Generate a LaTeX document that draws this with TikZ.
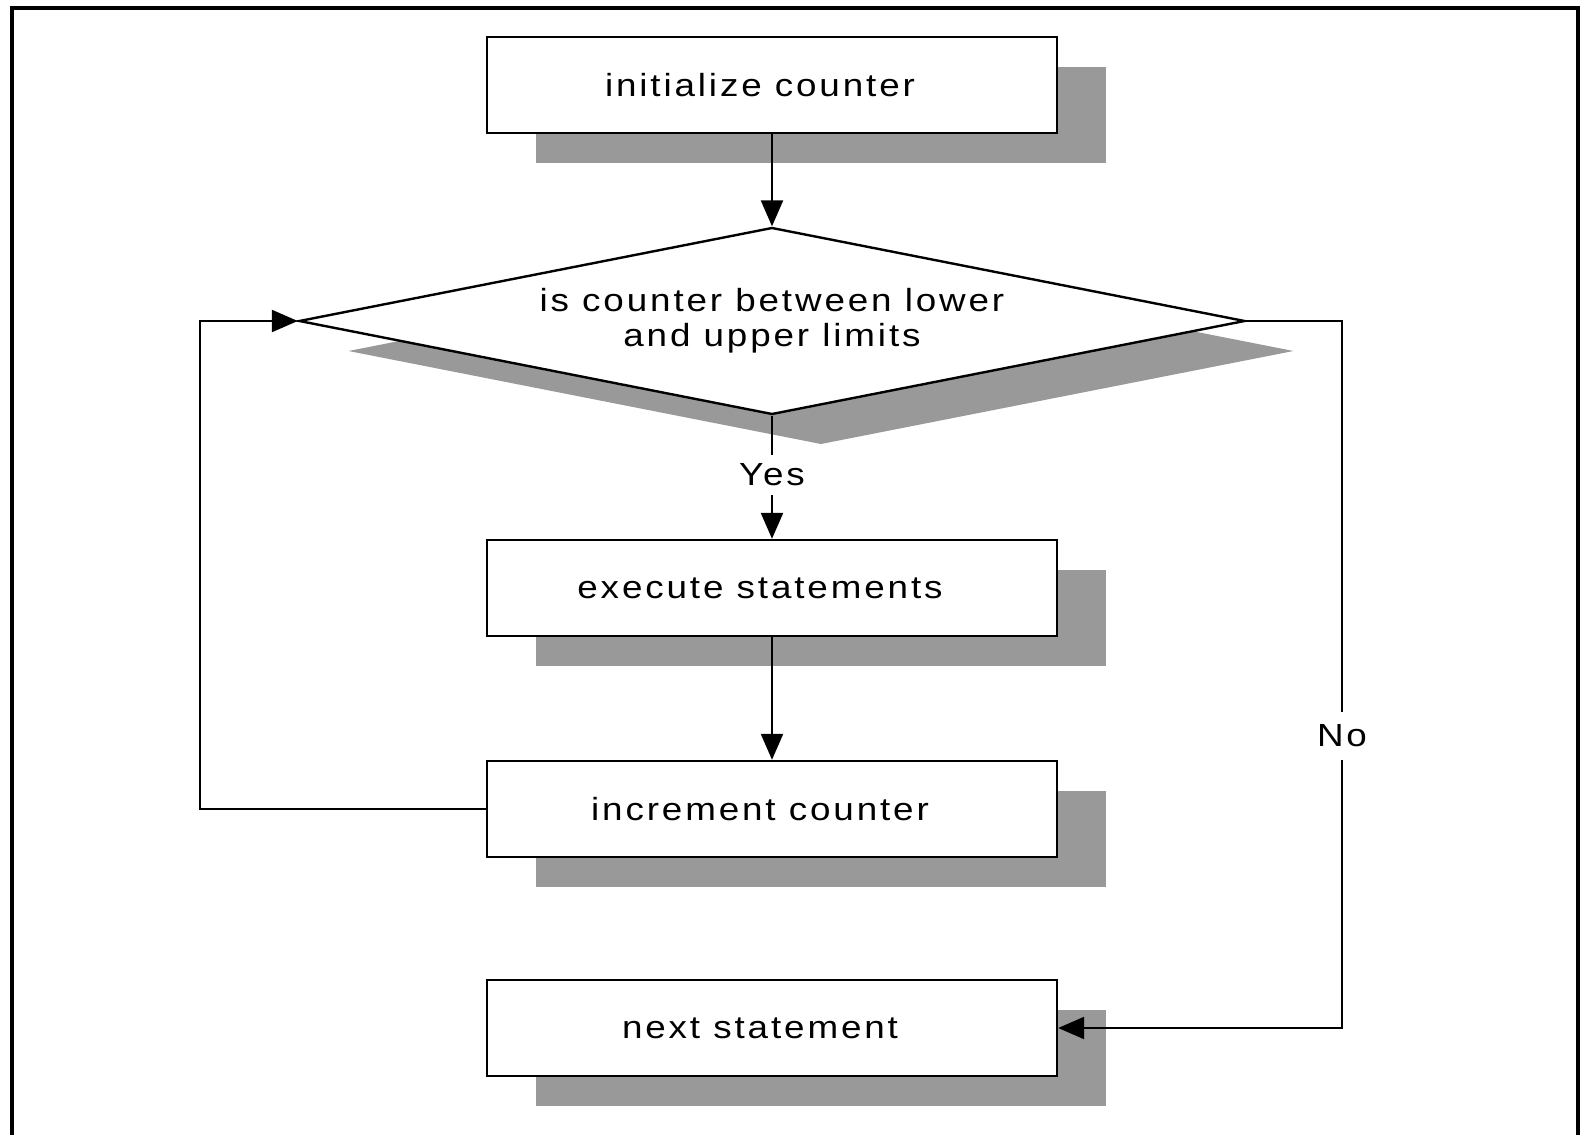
\documentclass[tikz,border=0pt]{standalone}
\usepackage{fontspec}
\setmainfont{Liberation Sans}[FakeStretch=1.15,LetterSpace=9]
\usetikzlibrary{shapes.geometric,shadows,arrows.meta}

\begin{document}
\begin{tikzpicture}[x=0.5pt,y=-0.5pt,
    shade box/.style={drop shadow={shadow xshift=24.5pt,shadow yshift=-15pt,fill=black!40,opacity=1}},
    box/.style={draw,line width=1.2pt,fill=white,minimum width=285pt,minimum height=48pt,inner sep=0pt,shade box,execute at end node=\hspace{12pt}},
    test/.style={diamond,aspect=5.06,draw,line width=1.2pt,fill=white,minimum width=473pt,minimum height=93.5pt,inner sep=0pt,align=center,shade box},
    lbl/.style={inner sep=0pt,fill=white},
    arr/.style={-{Triangle[length=13pt,width=11pt]}},
    font=\fontsize{16}{17.5}\selectfont, line width=1.2pt]
    \useasboundingbox (0,0) rectangle (1581,1135);
    \draw[line width=2pt] (12,1140) -- (12,8) -- (1578,8) -- (1578,1140); % frame

    \node[box] (init) at (772,85) {initialize counter};
    \node[test] (cond) at (772,321) {is counter between lower\\and upper limits};
    \node[box] (exec) at (772,588) {execute statements};
    \node[box] (incr) at (772,809) {increment counter};
    \node[box] (next) at (772,1028) {next statement};

    \node[lbl,minimum height=19pt] (yes) at (772,475) {Yes};
    \node[lbl,minimum height=23pt] (no) at (1342,736) {No};

    \draw[arr] (init) -- (cond);
    \draw (cond.south) -- (yes.north);
    \draw[arr] (yes.south) -- (exec);
    \draw[arr] (exec) -- (incr);
    \draw[arr] (incr.west) -- ++(-286,0) |- (cond.west); % back to the test
    \draw (cond.east) -| (no.north);
    \draw[arr] (no.south) |- (next.east); % leave the loop
\end{tikzpicture}
\end{document}
